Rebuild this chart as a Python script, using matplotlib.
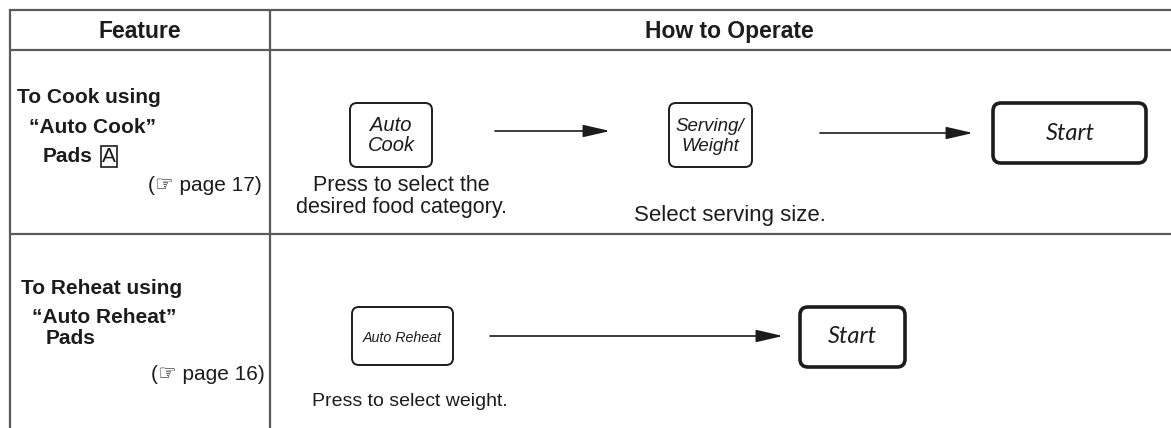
import matplotlib
matplotlib.use("Agg")
import matplotlib.pyplot as plt
from matplotlib.patches import FancyBboxPatch, FancyArrowPatch

# ---- content ----
headers = ["Feature", "How to Operate"]
feature1 = ["To Cook using", "\u201cAuto Cook\u201d", "Pads"]
feature1_ref = "(\u261e page 17)"
feature2 = ["To Reheat using", "\u201cAuto Reheat\u201d", "Pads"]
feature2_ref = "(\u261e page 16)"
pad_letter = "A"
row1_buttons = [["Auto", "Cook"], ["Serving/", "Weight"], ["Start"]]
row1_notes = [["Press to select the", "desired food category."], ["Select serving size."]]
row2_buttons = [["Auto Reheat"], ["Start"]]
row2_notes = ["Press to select weight."]

W, H = 1171, 428
fig = plt.figure(figsize=(W / 100, H / 100), dpi=100)
ax = fig.add_axes([0, 0, 1, 1])
ax.set_xlim(0, W)
ax.set_ylim(H, 0)
ax.axis("off")

SANS = ["Liberation Sans", "DejaVu Sans"]
START_FONT = ["Lato", "DejaVu Sans"]
GRID = "#5a5a5a"
INK = "#1c1c1c"

# table lines
for y in (10, 50, 234):
    ax.plot([9, W], [y, y], color=GRID, lw=1.6, solid_capstyle="butt")
for x in (10, 270):
    ax.plot([x, x], [9, H], color=GRID, lw=1.6, solid_capstyle="butt")

# headers
ax.text(140, 38, headers[0], ha="center", va="baseline", fontsize=16.5, fontweight="bold", family=SANS, color=INK)
ax.text(729, 38, headers[1], ha="center", va="baseline", fontsize=16.5, fontweight="bold", family=SANS, color=INK)

def txt(x, y, s, fs=15, ha="left", bold=False, fam=SANS, italic=False):
    ax.text(x, y, s, ha=ha, va="baseline", fontsize=fs, family=fam,
            fontweight="bold" if bold else "normal",
            style="italic" if italic else "normal", color=INK)

# feature column
for s, x, y in zip(feature1, [17, 29, 43], [103, 133, 162]):
    txt(x, y, s, bold=True)
txt(262, 191, feature1_ref, ha="right")
ax.text(109, 162, pad_letter, ha="center", va="baseline", fontsize=15, family=SANS, color=INK,
        bbox=dict(boxstyle="square,pad=0.06", fc="white", ec=INK, lw=1.2))
for s, x, y in zip(feature2, [21, 32, 46], [294, 323, 344]):
    txt(x, y, s, bold=True)
txt(265, 380, feature2_ref, ha="right")

# buttons
def button(x0, x1, y0, y1, lw=1.4, rs=7):
    p = FancyBboxPatch((x0, y0), x1 - x0, y1 - y0,
                       boxstyle=f"round,pad=0,rounding_size={rs}",
                       fc="white", ec=INK, lw=lw)
    ax.add_patch(p)

def arrow(x0, x1, y):
    a = FancyArrowPatch((x0, y), (x1, y), arrowstyle="-|>,head_length=1.65,head_width=0.38",
                        mutation_scale=10, color=INK, lw=1.2, shrinkA=0, shrinkB=0)
    ax.add_patch(a)

# row 1
button(350, 432, 103, 167)
for s, y in zip(row1_buttons[0], [131, 151]):
    txt(391, y, s, fs=14.5, ha="center", italic=True)
arrow(495, 610, 131)
button(669, 752, 103, 167)
for s, y in zip(row1_buttons[1], [131, 151]):
    txt(710, y, s, fs=13.5, ha="center", italic=True)
arrow(820, 973, 133)
button(993, 1146, 103, 163, lw=2.6, rs=8)
txt(1070, 140, row1_buttons[2][0], fs=17, ha="center", italic=True, fam=START_FONT)

for s, y in zip(row1_notes[0], [191, 213]):
    txt(401, y, s, fs=15.5, ha="center")
txt(730, 221, row1_notes[1][0], fs=16, ha="center")

# row 2
button(352, 453, 307, 365)
txt(402, 342, row2_buttons[0][0], fs=10.3, ha="center", italic=True)
arrow(490, 783, 336)
button(800, 905, 307, 367, lw=2.6, rs=8)
txt(852, 343, row2_buttons[1][0], fs=17, ha="center", italic=True, fam=START_FONT)

txt(312, 406, row2_notes[0], fs=14)

fig.savefig("out.png", dpi=100)
